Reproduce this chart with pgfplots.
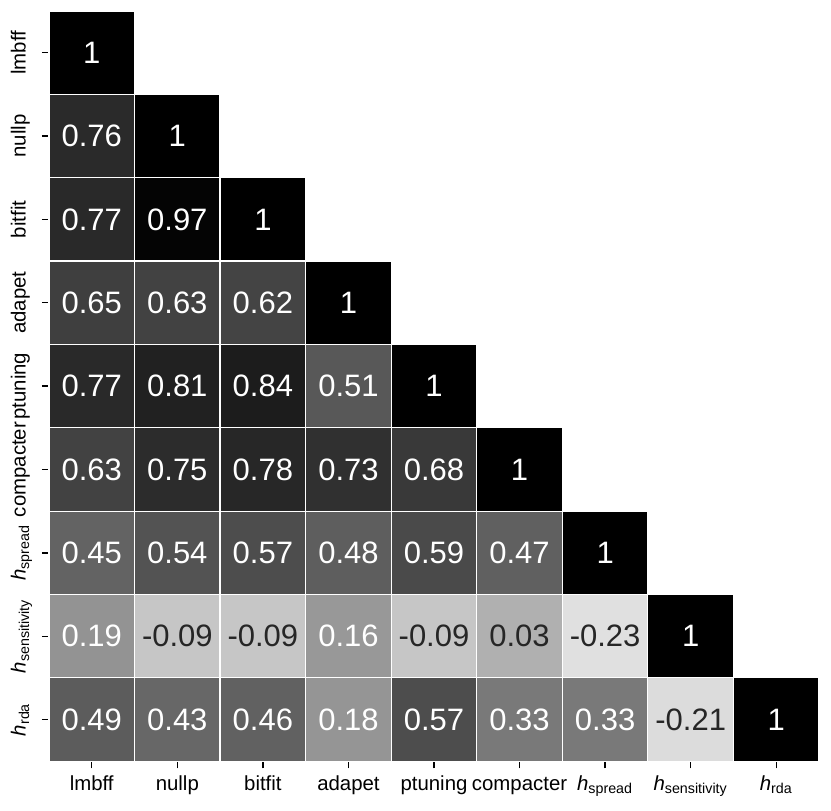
\documentclass[border=0pt]{standalone}
\usepackage{pgfplots}
\usepackage{pgfplotstable}
\pgfplotsset{compat=1.18}
\usepackage{fontspec}
\setmainfont{Liberation Sans}
\definecolor{dk}{gray}{0.15}
\newcommand{\hl}[1]{\textit{h}\textsubscript{#1}}
\pgfdeclareplotmark{cell}{%
  \pgfpathrectangle{\pgfpoint{-21.4pt}{-20.85pt}}{\pgfpoint{42.8pt}{41.7pt}}%
  \pgfusepathqfillstroke}
\pgfplotstableread{
x y v lbl tw
0 8 1 1 100
0 7 0.76 0.76 100
1 7 1 1 100
0 6 0.77 0.77 100
1 6 0.97 0.97 100
2 6 1 1 100
0 5 0.65 0.65 100
1 5 0.63 0.63 100
2 5 0.62 0.62 100
3 5 1 1 100
0 4 0.77 0.77 100
1 4 0.81 0.81 100
2 4 0.84 0.84 100
3 4 0.51 0.51 100
4 4 1 1 100
0 3 0.63 0.63 100
1 3 0.75 0.75 100
2 3 0.78 0.78 100
3 3 0.73 0.73 100
4 3 0.68 0.68 100
5 3 1 1 100
0 2 0.45 0.45 100
1 2 0.54 0.54 100
2 2 0.57 0.57 100
3 2 0.48 0.48 100
4 2 0.59 0.59 100
5 2 0.47 0.47 100
6 2 1 1 100
0 1 0.19 0.19 100
1 1 -0.09 -0.09 0
2 1 -0.09 -0.09 0
3 1 0.16 0.16 100
4 1 -0.09 -0.09 0
5 1 0.03 0.03 0
6 1 -0.23 -0.23 0
7 1 1 1 100
0 0 0.49 0.49 100
1 0 0.43 0.43 100
2 0 0.46 0.46 100
3 0 0.18 0.18 100
4 0 0.57 0.57 100
5 0 0.33 0.33 100
6 0 0.33 0.33 100
7 0 -0.21 -0.21 0
8 0 1 1 100
}\corr
\begin{document}
\begin{tikzpicture}
\begin{axis}[
  x=42.8pt, y=41.7pt,
  xmin=-0.5, xmax=8.5, ymin=-0.5, ymax=8.5,
  axis line style={draw=none},
  xtick={0,...,8}, ytick={0,...,8},
  xticklabels={lmbff,nullp,bitfit,adapet,ptuning,compacter,\hl{spread},\hl{sensitivity},\hl{rda}},
  yticklabels={\hl{rda},\hl{sensitivity},\hl{spread},compacter,ptuning,adapet,bitfit,nullp,lmbff},
  tick align=outside, xtick pos=left, ytick pos=left,
  major tick length=3.5pt,
  tick style={black, line width=0.7pt},
  ticklabel style={font=\fontsize{10.2}{12}\selectfont, text height=7.4pt, text depth=2.2pt},
  yticklabel style={rotate=90, anchor=south, inner ysep=5.8pt},
  xticklabel style={anchor=north},
  colormap={cm}{rgb255(0cm)=(224,224,224); rgb255(1cm)=(0,0,0)},
  point meta min=-0.23, point meta max=1,
]
\addplot[scatter, only marks, mark=cell, line width=0.6pt,
  scatter/use mapped color={draw=white, fill=mapped color},
  point meta=\thisrow{v},
] table[x=x, y=y] {\corr};
\addplot[draw=none, mark=none,
  point meta=explicit symbolic,
  visualization depends on={\thisrow{tw}\as\tw},
  nodes near coords,
  every node near coord/.append style={anchor=center, font=\fontsize{15.5}{17}\selectfont, text={white!\tw!dk}},
] table[x=x, y=y, meta=lbl] {\corr};
\coordinate (sw) at (rel axis cs:0,0);
\coordinate (ne) at (rel axis cs:1,1);
\end{axis}
\pgfresetboundingbox
\path[use as bounding box] ([shift={(-24.5pt,-24.5pt)}]sw) rectangle ([shift={(6pt,5.5pt)}]ne);
\end{tikzpicture}
\end{document}
